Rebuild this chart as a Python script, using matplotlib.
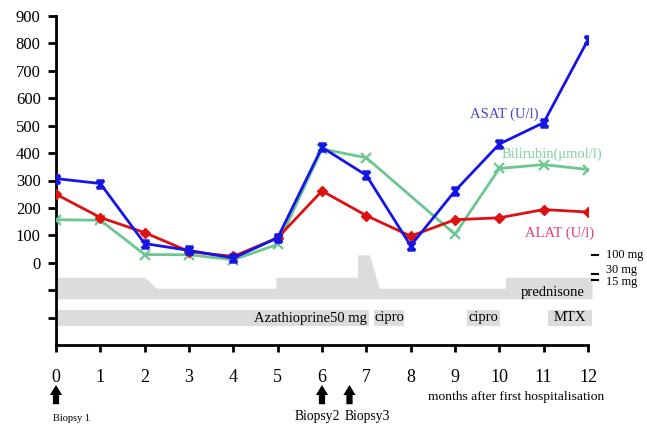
import matplotlib
matplotlib.use("Agg")
import matplotlib.pyplot as plt
from matplotlib.path import Path
import numpy as np

plt.rcParams['font.family'] = ['Liberation Serif', 'DejaVu Serif']

# ---- data ----
months = list(range(13))
asat = [307, 289, 70, 45, 17, 91, 421, 319, 62, 262, 433, 511, 813]
alat = [250, 165, 110, 41, 23, 91, 262, 172, 97, 157, 164, 194, 185]
bili_months = [0, 1, 2, 3, 4, 5, 6, 7, 9, 10, 11, 12]
bilirubin = [157, 155, 30, 29, 11, 67, 415, 383, 104, 344, 358, 340]

# prednisone schedule (month, dose in mg)
pred_months = [0, 2, 2.27, 4.96, 4.96, 6.8, 6.8, 7.07, 7.29, 10.14, 10.14, 12.09]
pred_dose = [30, 30, 15, 15, 30, 30, 100, 100, 15, 15, 30, 30]
dose_level = {15: -93, 30: -53, 100: 29}   # y position of each dose in the chart
pred_base = -132

# other treatments (start, end, label)
treatments = [(0, 7.05, "Azathioprine50 mg"), (7.17, 7.85, "cipro"),
              (9.26, 10.02, "cipro"), (11.1, 12.1, "MTX")]
treat_lo, treat_hi = -230, -172

biopsy_months = [0, 6, 6.62]
ytick_vals = [-200, -100, 0, 100, 200, 300, 400, 500, 600, 700, 800, 900]
ytick_labels = ["", ""] + [str(v) for v in range(0, 1000, 100)]

# ---- figure ----
fig = plt.figure(figsize=(6.47, 4.25), dpi=100)
ax = fig.add_axes([56/647, 80/425, 532/647, 329/425])
ax.set_xlim(0, 12)
ax.set_ylim(-300, 900)

gray = "#dcdcdc"
# prednisone band
ptop = [dose_level[d] for d in pred_dose]
ax.fill_between(pred_months, ptop, pred_base, color=gray, lw=0, clip_on=False, zorder=1)
ax.text(11.2, -108, "prednisone", ha="center", va="center", fontsize=10.5, zorder=2)

for s, e, lab in treatments:
    ax.fill_between([s, e], treat_hi, treat_lo, color=gray, lw=0, clip_on=False, zorder=1)
    if lab.startswith("Aza"):
        ax.text(e - 0.04, (treat_hi + treat_lo) / 2 - 3, lab, ha="right", va="center", fontsize=10.5)
    else:
        ax.text((s + e) / 2, (treat_hi + treat_lo) / 2 + 2, lab, ha="center", va="center", fontsize=10.5)

# dose labels on the right
for yv, ty, va, lab in [(29, 29, "center", "100 mg"), (-40, -48, "bottom", "30 mg"),
                        (-62, -50, "top", "15 mg")]:
    ax.plot([12.08, 12.23], [yv, yv], color="black", lw=1.5, clip_on=False)
    ax.text(12.4, ty, lab, ha="left", va=va, fontsize=8.8)

# marker for ASAT: X with top/bottom bars
hour = Path([(-1, -1), (1, 1), (-1, 1), (1, -1), (-1, 1), (1, 1), (-1, -1), (1, -1)],
            [Path.MOVETO, Path.LINETO, Path.MOVETO, Path.LINETO,
             Path.MOVETO, Path.LINETO, Path.MOVETO, Path.LINETO])

blue = "#1515e6"
red = "#dd1111"
green = "#6cc690"
ax.plot(bili_months, bilirubin, color=green, lw=2, marker="x", ms=7, mew=1.6, zorder=3)
ax.plot(months, alat, color=red, lw=2, marker="D", ms=5, zorder=4)
ax.plot(months, asat, color=blue, lw=2, marker=hour, ms=5.5, mew=2, zorder=5)

ax.text(10.1, 543, "ASAT (U/l)", color="#4848c8", fontsize=10.5, ha="center", va="center")
ax.text(11.19, 394, "Bilirubin(μmol/l)", color="#80d0a0", fontsize=10.5, ha="center", va="center")
ax.text(11.35, 106, "ALAT (U/l)", color="#e03a80", fontsize=10.5, ha="center", va="center")

# axes styling
for sp in ["top", "right"]:
    ax.spines[sp].set_visible(False)
ax.spines["left"].set_linewidth(2)
ax.spines["bottom"].set_linewidth(2)
ax.set_yticks(ytick_vals)
ax.set_yticklabels(ytick_labels, fontsize=12)
ax.set_xticks(months)
ax.set_xticklabels([str(m) for m in months], fontsize=13)
ax.tick_params(axis="y", direction="out", length=6, width=2, pad=5)
ax.tick_params(axis="x", direction="out", length=5, width=2, pad=12)

# biopsy arrows
for bm in biopsy_months:
    ax.annotate("", xy=(bm, -446), xytext=(bm, -516), annotation_clip=False,
                arrowprops=dict(arrowstyle="simple,head_width=0.55,head_length=0.45,tail_width=0.28",
                                mutation_scale=16, shrinkA=0, shrinkB=0,
                                color="black", lw=0))
ax.text(-0.07, -568, "Biopsy 1", fontsize=7.5, ha="left", va="center")
ax.text(5.89, -562, "Biopsy2", fontsize=9.8, ha="center", va="center")
ax.text(7.02, -562, "Biopsy3", fontsize=9.8, ha="center", va="center")
ax.text(10.38, -490, "months after first hospitalisation", fontsize=9.7, ha="center", va="center")

fig.savefig("out.png", dpi=100)
